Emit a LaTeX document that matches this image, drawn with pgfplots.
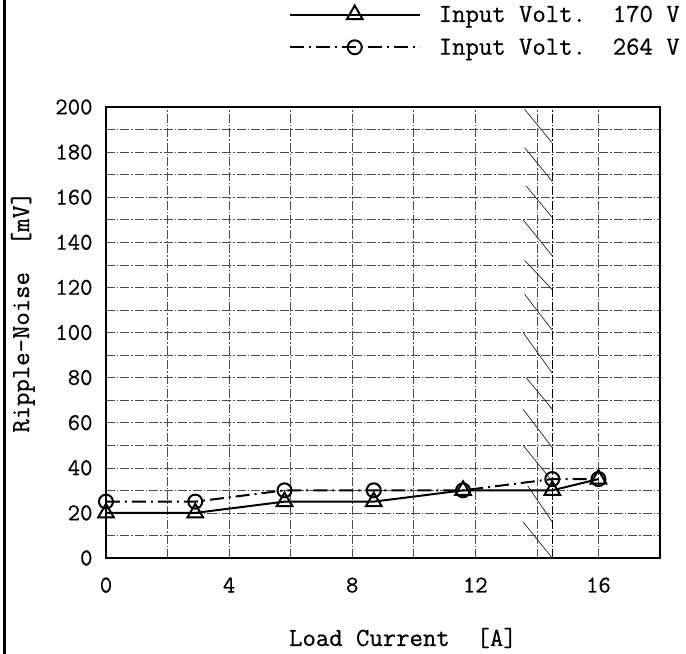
\documentclass[border=0pt]{standalone}
\usepackage{fontspec}
\setmainfont{Latin Modern Mono}[FakeBold=0.6]
\usepackage{pgfplots}
\pgfplotsset{compat=1.18}
\begin{document}
\begin{tikzpicture}
\useasboundingbox (-106bp,-96bp) rectangle (580bp,558bp);
\begin{axis}[
  at={(0,0)}, anchor=south west,
  scale only axis, width=554bp, height=451bp,
  xmin=0, xmax=18, ymin=0, ymax=200,
  xtick={0,4,8,12,16}, minor xtick={2,6,10,14},
  ytick={0,20,...,200}, minor ytick={10,30,...,190},
  major tick length=0pt, minor tick length=0pt,
  grid=both,
  major grid style={black!70, line width=0.6bp, dash pattern=on 9bp off 2bp on 1.5bp off 2bp},
  minor grid style={black!70, line width=0.6bp, dash pattern=on 9bp off 2bp on 1.5bp off 2bp},
  axis line style={line width=2.5bp},
  /pgf/number format/assume math mode=true,
  tick label style={font=\fontsize{24bp}{27bp}\selectfont},
  xticklabel style={yshift=-16bp},
  yticklabel style={xshift=-10bp},
  xlabel={Load Current\ \ [A]},
  ylabel={Ripple-Noise\ \ [mV]},
  label style={font=\fontsize{26bp}{29bp}\selectfont},
  xlabel style={at={(rel axis cs:0.536,-0.195)}, anchor=base},
  ylabel style={at={(rel axis cs:-0.150,0.545)}, anchor=center},
  legend style={draw=none, fill=none, at={(rel axis cs:1.045,1.234)}, anchor=north east,
    font=\fontsize{26bp}{29bp}\selectfont, row sep=11bp,
    /tikz/every odd column/.append style={column sep=16bp}},
  legend cell align=left,
  legend image code/.code={\draw[#1, mark repeat=2, mark phase=2] plot coordinates {(0bp,0bp) (65bp,0bp) (130bp,0bp)};},
]
% boundary hatch
\addplot[black!85, line width=0.7bp, unbounded coords=jump, forget plot] coordinates {
  (13.6,199) (14.5,184) (nan,nan)
  (13.6,182) (14.5,167) (nan,nan)
  (13.65,165) (14.5,151) (nan,nan)
  (13.55,150) (14.5,134) (nan,nan)
  (13.6,132) (14.5,119) (nan,nan)
  (13.6,117) (14.5,101) (nan,nan)
  (13.55,100) (14.5,82) (nan,nan)
  (13.65,80) (14.5,66) (nan,nan)
  (13.55,66) (14.5,49) (nan,nan)
  (13.55,50) (14.5,34) (nan,nan)
  (13.7,32) (14.5,16) (nan,nan)
  (13.55,16) (14.5,0)
};
\addplot[black, line width=0.8bp, dash pattern=on 9bp off 2bp on 1.5bp off 2bp, forget plot] coordinates {(14.5,0) (14.5,200)};
% data
\addplot[black, line width=2bp, mark=triangle, mark size=9bp,
  mark options={solid, fill=white, line width=2bp}] coordinates {
  (0,20) (2.9,20) (5.8,25) (8.7,25) (11.6,30) (14.5,30) (16,35)
};
\addlegendentry{Input Volt.\ \ 170 V}
\addplot[black, line width=2bp, dash pattern=on 14bp off 5bp on 2bp off 5bp, mark=o, mark size=7bp,
  mark options={solid, fill=white, line width=2bp}] coordinates {
  (0,25) (2.9,25) (5.8,30) (8.7,30) (11.6,30) (14.5,35) (16,35)
};
\addlegendentry{Input Volt.\ \ 264 V}
\end{axis}
\draw[line width=3bp] (-101bp,-96bp) -- (-101bp,558bp);
\end{tikzpicture}
\end{document}
